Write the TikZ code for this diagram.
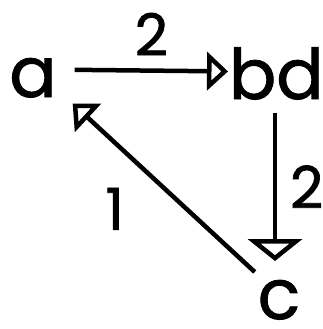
\documentclass[tikz,border=0pt]{standalone}
\usepackage{fontspec}
\setmainfont{Poppins}[FakeBold=1.2]
\usetikzlibrary{arrows.meta,calc}
\tikzset{
  vtx/.style={inner sep=0pt, outer sep=0pt, font=\fontsize{70}{70}\selectfont},
  lbl/.style={inner sep=0pt, outer sep=0pt, font=\fontsize{58}{58}\selectfont},
  arr/.style={line width=4.5pt, -{Triangle[open, length=21pt, width=38pt, line width=4.5pt]}},
  arrwide/.style={line width=4.5pt, -{Triangle[open, length=22pt, width=54pt, line width=4.5pt]}}
}
\begin{document}
\begin{tikzpicture}[x=1pt,y=-1pt]
\useasboundingbox (0,0) rectangle (322,329);
\node[vtx, anchor=base] (a) at (33,97) {a};
\node[vtx, anchor=base west] (bd) at (229,99) {bd};
\node[vtx, anchor=base] (c) at (279,319) {c};
\draw[arr] ($(a.east)+(18,-8)$) -- node[lbl, above=15pt] {2} ($(bd.west)+(-1,-2)$);
\draw[arrwide] ($(bd.south -| c.north)+(-4,13)$) -- node[lbl, right=15pt] {2} ($(c.north)+(-4,-19)$);
\draw[arr] ($(c.north west)+(-3,-8)$) -- node[lbl, xshift=-49pt, yshift=-21pt] {1} ($(a.south east)+(16,6)$);
\end{tikzpicture}
\end{document}
